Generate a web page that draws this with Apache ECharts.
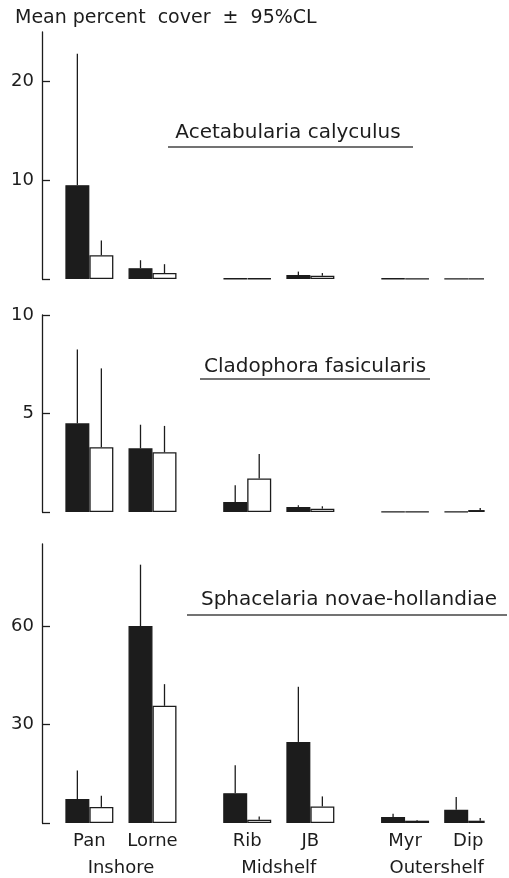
<!DOCTYPE html>
<html>
<head>
<meta charset="utf-8">
<script src="https://cdn.jsdelivr.net/npm/echarts@6/dist/echarts.min.js"></script>
<style>
  html, body { margin: 0; padding: 0; background: #fff; }
  #chart { width: 509px; height: 878px; }
</style>
</head>
<body>
<div id="chart"></div>
<script>
const sites = ['Pan', 'Lorne', 'Rib', 'JB', 'Myr', 'Dip']
const shelves = ['Inshore', 'Midshelf', 'Outershelf']
const species = ['Acetabularia calyculus', 'Cladophora fasicularis', 'Sphacelaria novae-hollandiae']
const yTitle = 'Mean percent  cover  \u00b1  95%CL'

// mean percent cover (black bar, white bar) and 95% CL per site
const acetBlack = [9.5, 1.1, 0.05, 0.4, 0.05, 0.02]
const acetBlackCL = [13.3, 0.8, 0, 0.35, 0, 0]
const acetWhite = [2.4, 0.6, 0.05, 0.33, 0.02, 0.02]
const acetWhiteCL = [1.5, 0.9, 0, 0.27, 0, 0]

const cladBlack = [4.5, 3.23, 0.51, 0.26, 0.02, 0.02]
const cladBlackCL = [3.75, 1.2, 0.85, 0.08, 0, 0]
const cladWhite = [3.29, 3.03, 1.7, 0.17, 0.02, 0.1]
const cladWhiteCL = [4.0, 1.34, 1.24, 0.12, 0, 0.1]

const sphaBlack = [7.3, 60, 9.1, 24.7, 1.8, 4.05]
const sphaBlackCL = [8.7, 18.7, 8.5, 16.8, 1.0, 3.85]
const sphaWhite = [4.9, 35.7, 1.0, 5.05, 0.7, 0.7]
const sphaWhiteCL = [3.4, 6.6, 1.0, 3.05, 0.2, 0.8]

const yMax = [25, 10, 85]
const yLabels = [[10, 20], [5, 10], [30, 60]]

// layout: sites sit on uneven slots of a category axis
const nSlots = 14
const siteSlot = [1, 3, 6, 8, 11, 13]
const shelfSlot = [2, 7, 12]
const barW = 24
const ink = '#1c1c1c'
const font = '"DejaVu Sans", sans-serif'

const panels = [
  { black: acetBlack, blackCL: acetBlackCL, white: acetWhite, whiteCL: acetWhiteCL },
  { black: cladBlack, blackCL: cladBlackCL, white: cladWhite, whiteCL: cladWhiteCL },
  { black: sphaBlack, blackCL: sphaBlackCL, white: sphaWhite, whiteCL: sphaWhiteCL },
]

const slotNames = Array.from({ length: nSlots }, () => '')
siteSlot.forEach((s, i) => { slotNames[s] = sites[i] })
const shelfNames = Array.from({ length: nSlots }, () => '')
shelfSlot.forEach((s, i) => { shelfNames[s] = shelves[i] })

const toSlots = (vals) => {
  const out = Array.from({ length: nSlots }, () => '-')
  siteSlot.forEach((s, i) => { out[s] = vals[i] })
  return out
}

const errorData = (p) => {
  const out = []
  siteSlot.forEach((s, i) => {
    if (p.blackCL[i] > 0) out.push([s, p.black[i], p.black[i] + p.blackCL[i], 0])
    if (p.whiteCL[i] > 0) out.push([s, p.white[i], p.white[i] + p.whiteCL[i], 1])
  })
  return out
}

function renderError(params, api) {
  const side = api.value(3) === 0 ? -1 : 1
  const lo = api.coord([api.value(0), api.value(1)])
  const hi = api.coord([api.value(0), api.value(2)])
  const x = lo[0] + side * barW / 2
  return {
    type: 'line',
    shape: { x1: x, y1: lo[1], x2: x, y2: hi[1] },
    style: { stroke: ink, lineWidth: 1.3 },
  }
}

const grids = [
  { left: 42, right: 25, top: 32, height: 247 },
  { left: 42, right: 25, top: 315, height: 197 },
  { left: 42, right: 25, top: 544, height: 279 },
]

const xAxes = grids.map((g, k) => ({
  type: 'category',
  gridIndex: k,
  data: slotNames,
  axisLine: { show: false },
  axisTick: { show: false },
  axisLabel: {
    show: k === 2,
    interval: 0,
    margin: 9,
    fontFamily: font,
    fontSize: 18,
    color: ink,
  },
}))
xAxes.push({
  type: 'category',
  gridIndex: 2,
  position: 'bottom',
  offset: 27,
  data: shelfNames,
  axisLine: { show: false },
  axisTick: { show: false },
  axisLabel: { interval: 0, margin: 9, fontFamily: font, fontSize: 18, color: ink },
})

const yAxes = grids.map((g, k) => ({
  type: 'value',
  gridIndex: k,
  min: 0,
  max: yMax[k],
  splitLine: { show: false },
  axisLine: { show: true, lineStyle: { color: ink, width: 1.3 } },
  axisTick: {
    show: true,
    inside: true,
    length: 8,
    customValues: [0].concat(yLabels[k]),
    lineStyle: { color: ink, width: 1.3 },
  },
  axisLabel: {
    customValues: yLabels[k],
    margin: 8,
    fontFamily: font,
    fontSize: 18,
    color: ink,
  },
}))

const series = []
panels.forEach((p, k) => {
  series.push({
    type: 'bar',
    xAxisIndex: k,
    yAxisIndex: k,
    data: toSlots(p.black),
    barWidth: barW,
    barGap: '0%',
    itemStyle: { color: ink, borderColor: ink, borderWidth: 1.3 },
  })
  series.push({
    type: 'bar',
    xAxisIndex: k,
    yAxisIndex: k,
    data: toSlots(p.white),
    barWidth: barW,
    barGap: '0%',
    itemStyle: { color: '#fff', borderColor: ink, borderWidth: 1.3 },
  })
  series.push({
    type: 'custom',
    xAxisIndex: k,
    yAxisIndex: k,
    z: 5,
    data: errorData(p),
    renderItem: renderError,
  })
})

// species names with their rules
const speciesPos = [
  { x: 288, y: 133, rule: [168, 413, 147] },
  { x: 315, y: 367, rule: [200, 430, 379] },
  { x: 349, y: 600, rule: [187, 507, 615] },
]
const graphic = []
speciesPos.forEach((s, i) => {
  graphic.push({
    type: 'text',
    x: s.x,
    y: s.y,
    style: {
      text: species[i],
      font: '20px ' + font,
      fill: ink,
      align: 'center',
      verticalAlign: 'middle',
      textAlign: 'center',
      textVerticalAlign: 'middle',
    },
  })
  graphic.push({
    type: 'line',
    shape: { x1: s.rule[0], y1: s.rule[2], x2: s.rule[1], y2: s.rule[2] },
    style: { stroke: '#444', lineWidth: 1.5 },
  })
})

const chart = echarts.init(document.getElementById('chart'), null, { renderer: 'canvas' })
chart.setOption({
  animation: false,
  backgroundColor: '#fff',
  title: {
    text: yTitle,
    left: 10,
    top: 4,
    textStyle: { fontFamily: font, fontSize: 19, fontWeight: 'normal', color: ink },
  },
  grid: grids,
  xAxis: xAxes,
  yAxis: yAxes,
  series: series,
  graphic: graphic,
})
</script>
</body>
</html>
